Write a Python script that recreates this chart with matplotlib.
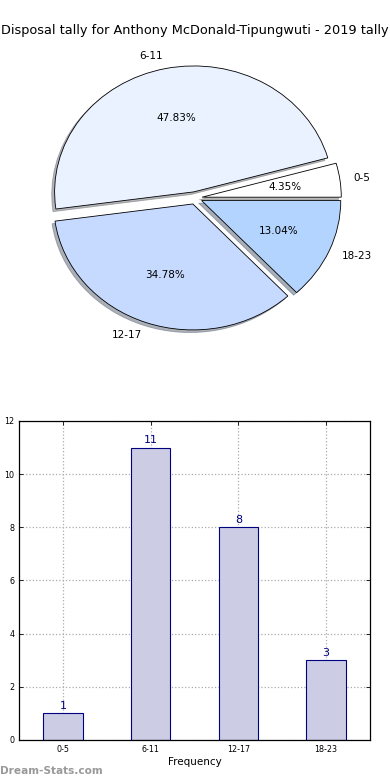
import matplotlib
matplotlib.use("Agg")
import matplotlib.pyplot as plt

# data
categories = ["0-5", "6-11", "12-17", "18-23"]
tallies = [1, 11, 8, 3]
pie_colors = ["#ffffff", "#eaf1ff", "#c6d9ff", "#b3d4ff"]

fig = plt.figure(figsize=(3.9, 7.8), dpi=100)

# --- pie of the disposal share per bucket ---
ax_pie = fig.add_axes([0.033, 0.5346, 0.935, 0.423])
wedges, texts, autotexts = ax_pie.pie(
    tallies, labels=categories, colors=pie_colors,
    explode=[0.05] * len(tallies), autopct="%.2f%%",
    shadow={"ox": -0.015, "oy": -0.015, "shade": 0.55},
    wedgeprops={"edgecolor": "black", "linewidth": 0.6},
    textprops={"fontsize": 7.5},
)
ax_pie.set_aspect("auto")
ax_pie.set_xlim(-1.31, 1.31)
ax_pie.set_ylim(-1.31, 1.31)
fig.text(0.5, 0.961, "Disposal tally for Anthony McDonald-Tipungwuti - 2019 tally",
         ha="center", va="center", fontsize=9.3)

# --- bar chart of the same tallies ---
ax_bar = fig.add_axes([0.0487, 0.0513, 0.9, 0.409])
xs = range(len(categories))
ax_bar.bar(xs, tallies, width=0.45, color="#ccccE5", edgecolor="navy",
           linewidth=0.8, zorder=2)
for x, v in zip(xs, tallies):
    ax_bar.text(x, v + 0.1, str(v), ha="center", va="bottom",
                color="navy", fontsize=8)
ax_bar.set_xlim(-0.5, 3.5)
ax_bar.set_ylim(0, 12)
ax_bar.set_xticks(list(xs))
ax_bar.set_xticklabels(categories)
ax_bar.set_yticks(range(0, 13, 2))
ax_bar.tick_params(labelsize=5.8, direction="in", top=True, right=True,
                   length=3, width=0.6)
ax_bar.grid(True, linestyle=":", color="#aaaaaa", linewidth=0.9, zorder=0)
ax_bar.set_axisbelow(True)
ax_bar.set_xlabel("Frequency", fontsize=7.5, labelpad=2)
ax_bar.set_ylabel("Disposal Tally", fontsize=7.5)
ax_bar.yaxis.set_label_coords(-0.06, 0.5)
for s in ax_bar.spines.values():
    s.set_linewidth(0.9)

fig.text(0.0, 0.012, "Dream-Stats.com", color="#999999", fontsize=7.6,
         fontweight="bold", ha="left", va="center")

fig.savefig("out.png", dpi=100)
